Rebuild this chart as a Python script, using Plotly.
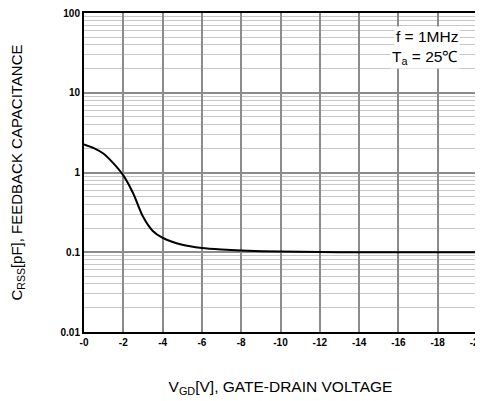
import plotly.graph_objects as go

vgd = [0, -0.5, -1.0, -1.5, -2.0, -2.5, -3.0, -3.5, -4.0, -5.0, -6.0, -7.0, -8.0, -10.0, -12.0, -14.0, -16.0, -18.0, -20.0]
crss = [2.25, 2.02, 1.72, 1.3, 0.92, 0.55, 0.28, 0.185, 0.152, 0.124, 0.113, 0.108, 0.105, 0.102, 0.1005, 0.1, 0.1, 0.1, 0.1]

x_ticks = [0, -2, -4, -6, -8, -10, -12, -14, -16, -18, -20]
x_ticktext = ["-0", "-2", "-4", "-6", "-8", "-10", "-12", "-14", "-16", "-18", "-20"]
y_ticks = [0.01, 0.1, 1, 10, 100]
y_ticktext = ["0.01", "0.1", "1", "10", "100"]
y_minor = [m * d for d in [0.01, 0.1, 1, 10] for m in range(2, 10)]

FONT = "Arial, Liberation Sans, sans-serif"

fig = go.Figure()
fig.add_trace(go.Scatter(x=vgd, y=crss, mode="lines",
                         line=dict(color="black", width=2, shape="spline", smoothing=0.8),
                         showlegend=False, hoverinfo="skip"))

fig.update_layout(
    width=483, height=393,
    margin=dict(l=76, r=14, t=5, b=69),
    paper_bgcolor="white", plot_bgcolor="white",
    font=dict(family=FONT, color="black"),
    xaxis=dict(
        range=[0, -20], tickmode="array", tickvals=x_ticks, ticktext=x_ticktext,
        showgrid=True, gridcolor="#8c8c8c", gridwidth=1.5,
        showline=True, linecolor="black", linewidth=2, mirror=True,
        ticks="", tickfont=dict(size=10, family=FONT, weight="bold"),
        zeroline=False, automargin=False, ticklabeloverflow="allow",
        title=dict(text="V<sub>GD</sub>[V], GATE-DRAIN VOLTAGE", font=dict(size=15.5, family=FONT), standoff=34),
    ),
    yaxis=dict(
        type="log", range=[-2, 2], tickmode="array", tickvals=y_ticks, ticktext=y_ticktext,
        showgrid=True, gridcolor="#8c8c8c", gridwidth=1.5,
        minor=dict(tickmode="array", tickvals=y_minor, showgrid=True, gridcolor="#c8c8c8", gridwidth=1, ticks=""),
        showline=True, linecolor="black", linewidth=2, mirror=True,
        ticks="", tickfont=dict(size=10, family=FONT, weight="bold"),
        zeroline=False, automargin=False, ticklabeloverflow="allow",
        title=dict(text="C<sub>RSS</sub>[pF], FEEDBACK CAPACITANCE", font=dict(size=15, family=FONT), standoff=46),
    ),
    annotations=[
        dict(xref="paper", yref="paper", x=0.957, y=0.925, xanchor="right", yanchor="middle",
             text="f = 1MHz", showarrow=False, bgcolor="white", borderpad=1,
             font=dict(size=15.5, family=FONT)),
        dict(xref="paper", yref="paper", x=0.957, y=0.86, xanchor="right", yanchor="middle",
             text="T<sub>a</sub> = 25℃", showarrow=False, bgcolor="white", borderpad=1,
             font=dict(size=15.5, family=FONT)),
    ],
)

fig.write_html("out.html")
